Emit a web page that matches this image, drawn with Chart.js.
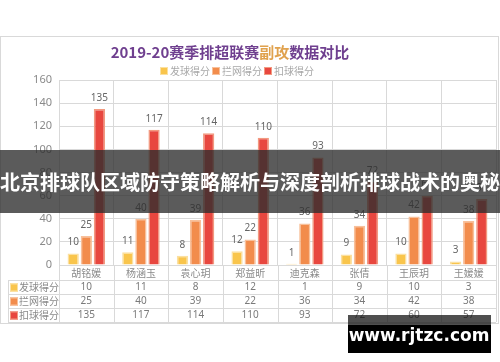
<!DOCTYPE html>
<html lang="zh">
<head>
    <meta charset="utf-8">
    <title>2019-20赛季排超联赛副攻数据对比</title>
    <script src="https://cdn.jsdelivr.net/npm/chart.js"></script>
    <style>
        html, body { margin: 0; padding: 0; background: #fff; }
        canvas { display: block; }
    </style>
</head>
<body>
    <canvas id="mbChart" width="500" height="362"></canvas>
    <script>
        // 数据
        var players = ['胡铭媛', '杨涵玉', '袁心玥', '郑益昕', '迪克森', '张倩', '王辰玥', '王媛媛'];
        var seriesNames = ['发球得分', '拦网得分', '扣球得分'];
        var serveScores = [10, 11, 8, 12, 1, 9, 10, 3];
        var blockScores = [25, 40, 39, 22, 36, 34, 42, 38];
        var attackScores = [135, 117, 114, 110, 93, 72, 60, 57];
        var yTicks = [0, 20, 40, 60, 80, 100, 120, 140, 160];

        var titleParts = [['2019-20赛季排超联赛', '#6f3f8f'], ['副攻', '#e0a24e'], ['数据对比', '#6f3f8f']];
        var bannerText = '北京排球队区域防守策略解析与深度剖析排球战术的奥秘';
        var watermark = 'www.rjtzc.com';

        var fills = ['#f9c54c', '#f28c4c', '#e8473f'];
        var edges = ['#fbe0a0', '#f8c09a', '#f29a80'];
        var FONT = '"Noto Sans", "Noto Sans CJK SC", sans-serif';
        var CJK = '"Noto Sans CJK SC", sans-serif';

        var allSeries = [serveScores, blockScores, attackScores];

        // 外框、标题、表格、水印
        var extras = {
            id: 'extras',
            beforeDraw: function (chart) {
                var c = chart.ctx;
                c.save();
                c.fillStyle = '#fff';
                c.fillRect(0, 0, 500, 362);
                c.strokeStyle = '#d9d9d9';
                c.lineWidth = 1;
                c.strokeRect(0.5, 36.5, 498, 287);
                c.restore();
            },
            afterDatasetsDraw: function (chart) {
                var c = chart.ctx;
                var xs = chart.scales.x;
                var area = chart.chartArea;
                c.save();

                // 柱顶数值
                c.font = '10px ' + FONT;
                c.fillStyle = '#666';
                c.textAlign = 'center';
                c.textBaseline = 'bottom';
                chart.data.datasets.forEach(function (ds, i) {
                    chart.getDatasetMeta(i).data.forEach(function (bar, j) {
                        c.fillText(String(ds.data[j]), bar.x, bar.y - 6);
                    });
                });

                // 标题
                c.font = 'bold 15px ' + CJK;
                c.textBaseline = 'middle';
                c.textAlign = 'left';
                var tw = 0;
                titleParts.forEach(function (p) { tw += c.measureText(p[0]).width; });
                var tx = 230 - tw / 2;
                titleParts.forEach(function (p) {
                    c.fillStyle = p[1];
                    c.fillText(p[0], tx, 52);
                    tx += c.measureText(p[0]).width;
                });

                // 图例
                c.font = '10px ' + CJK;
                var lx = 160;
                seriesNames.forEach(function (name, i) {
                    c.fillStyle = fills[i];
                    c.fillRect(lx, 67, 8, 8);
                    c.strokeStyle = edges[i];
                    c.strokeRect(lx + 0.5, 67.5, 7, 7);
                    c.fillStyle = '#a8a8a8';
                    c.fillText(name, lx + 10, 71.5);
                    lx += 10 + c.measureText(name).width + 2;
                });

                // 数据表
                var rowY = [280, 294, 308, 322];
                c.strokeStyle = '#d9d9d9';
                c.lineWidth = 1;
                c.beginPath();
                rowY.forEach(function (y) {
                    c.moveTo(8, y + 0.5);
                    c.lineTo(area.right, y + 0.5);
                });
                c.moveTo(8.5, 280);
                c.lineTo(8.5, 322);
                for (var k = 0; k <= players.length; k++) {
                    var bx = Math.round(area.left + (area.right - area.left) * k / players.length) + 0.5;
                    c.moveTo(bx, area.bottom);
                    c.lineTo(bx, 322);
                }
                c.stroke();

                seriesNames.forEach(function (name, i) {
                    var cy = rowY[i] + 7.5;
                    c.fillStyle = fills[i];
                    c.fillRect(10, cy - 4, 8, 8);
                    c.strokeStyle = edges[i];
                    c.strokeRect(10.5, cy - 3.5, 7, 7);
                    c.font = '10px ' + CJK;
                    c.fillStyle = '#8a8a8a';
                    c.textAlign = 'left';
                    c.fillText(name, 19, cy);
                    c.font = '10px ' + FONT;
                    c.fillStyle = '#7a7a7a';
                    c.textAlign = 'center';
                    allSeries[i].forEach(function (v, j) {
                        c.fillText(String(v), xs.getPixelForValue(j), cy);
                    });
                });

                // 遮挡横幅
                c.fillStyle = 'rgba(45,45,45,0.78)';
                c.fillRect(0, 150, 500, 63);
                c.font = 'bold 20px ' + CJK;
                c.fillStyle = '#fff';
                c.textAlign = 'center';
                c.fillText(bannerText, 250, 182);

                // 水印
                c.fillStyle = 'rgba(20,20,20,0.75)';
                c.fillRect(348, 315, 143, 10);
                c.fillStyle = '#000';
                c.fillRect(348, 325, 143, 28);
                c.font = 'bold 17px "DejaVu Sans", sans-serif';
                c.fillStyle = '#fff';
                c.fillText(watermark, 419, 337);
                c.restore();
            }
        };

        var ctx = document.getElementById('mbChart').getContext('2d');
        var mbChart = new Chart(ctx, {
            type: 'bar',
            data: {
                labels: players,
                datasets: seriesNames.map(function (name, i) {
                    return {
                        label: name,
                        data: allSeries[i],
                        backgroundColor: fills[i],
                        borderColor: edges[i],
                        borderWidth: 1.5,
                        categoryPercentage: 0.72,
                        barPercentage: 0.86
                    };
                })
            },
            options: {
                responsive: false,
                animation: false,
                layout: { padding: { top: 80, left: 0, right: 4, bottom: 81 } },
                plugins: {
                    legend: { display: false },
                    title: { display: false },
                    tooltip: { enabled: false }
                },
                scales: {
                    x: {
                        offset: true,
                        grid: { offset: true, color: '#d9d9d9', drawTicks: false },
                        border: { display: false },
                        ticks: { color: '#8a8a8a', font: { size: 10, family: CJK }, padding: 2 },
                        afterFit: function (s) { s.height = 16; }
                    },
                    y: {
                        min: 0,
                        max: 160,
                        afterBuildTicks: function (s) {
                            s.ticks = yTicks.map(function (v) { return { value: v }; });
                        },
                        grid: { color: '#d9d9d9', drawTicks: false },
                        border: { display: false },
                        ticks: { color: '#8a8a8a', font: { size: 11, family: FONT }, padding: 7 },
                        afterFit: function (s) { s.width = 59; }
                    }
                }
            },
            plugins: [extras]
        });
    </script>
</body>
</html>
